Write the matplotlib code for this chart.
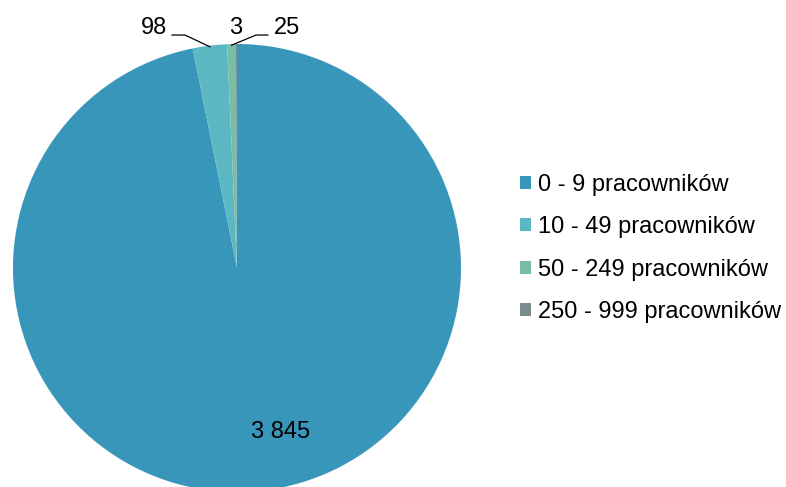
import numpy as np
import matplotlib.pyplot as plt
from matplotlib.patches import Patch

plt.rcParams['font.family'] = ['Liberation Sans', 'DejaVu Sans']

# data
categories = ['0 - 9 pracowników', '10 - 49 pracowników',
              '50 - 249 pracowników', '250 - 999 pracowników']
values = [3845, 98, 25, 3]
colors = ['#3996bb', '#5bb8c2', '#78bea6', '#7b8b8d']


def fmt(v):
    return '{:,}'.format(v).replace(',', ' ')


FS = 17

fig = plt.figure(figsize=(7.86, 4.87), dpi=100)
ax = fig.add_axes([0, 0, 1, 1])

wedges, _ = ax.pie(values, colors=colors, startangle=90, counterclock=False,
                   radius=1, center=(0, 0), wedgeprops=dict(linewidth=0))

# 1 data unit = 224 px, pie centre at (237, 268) px
ax.set_xlim(-237 / 224, (786 - 237) / 224)
ax.set_ylim((268 - 487) / 224, 268 / 224)
ax.set_aspect('equal', adjustable='box')
ax.axis('off')


def edge(w):
    a = np.deg2rad((w.theta1 + w.theta2) / 2)
    return np.cos(a) * 0.995, np.sin(a) * 0.995


# data labels
ax.text(0.196, -0.732, fmt(values[0]), fontsize=FS, ha='center', va='center')

ex, ey = edge(wedges[1])
ax.plot([-0.290, -0.232, ex], [1.040, 1.040, ey], color='black', lw=0.9)
ax.text(-0.371, 1.071, fmt(values[1]), fontsize=FS, ha='center', va='center')

ex, ey = edge(wedges[2])
ax.plot([0.138, 0.085, ex], [1.040, 1.040, ey], color='black', lw=0.9)
ax.text(0.223, 1.071, fmt(values[2]), fontsize=FS, ha='center', va='center')

ax.text(-0.004, 1.071, fmt(values[3]), fontsize=FS, ha='center', va='center')

handles = [Patch(facecolor=c, edgecolor='none') for c in colors]
fig.legend(handles, categories, loc='center left', bbox_to_anchor=(0.661, 0.490),
           frameon=False, fontsize=FS, handlelength=0.48, handleheight=0.48,
           handletextpad=0.3, labelspacing=0.87, borderaxespad=0, borderpad=0)

fig.savefig('out.png', dpi=100)
